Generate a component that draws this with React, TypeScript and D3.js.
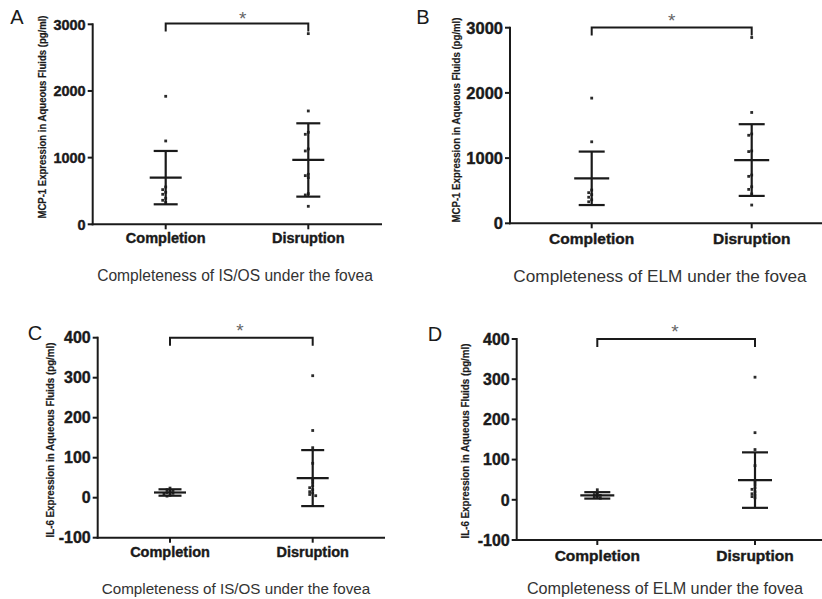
import React from "react";
import * as d3 from "d3";

// ---------- data ----------
const categories = ["Completion", "Disruption"];
const panelLetters = ["A", "B", "C", "D"];
const yAxisTitles = [
  "MCP-1 Expression in Aqueous Fluids (pg/ml)",
  "MCP-1 Expression in Aqueous Fluids (pg/ml)",
  "IL-6 Expression in Aqueous Fluids (pg/ml)",
  "IL-6 Expression in Aqueous Fluids (pg/ml)",
];
const subtitles = [
  "Completeness of IS/OS under the fovea",
  "Completeness of ELM under the fovea",
  "Completeness of IS/OS under the fovea",
  "Completeness of ELM under the fovea",
];
const mcpTicks = [0, 1000, 2000, 3000];
const il6Ticks = [-100, 0, 100, 200, 300, 400];
const mcpDomain = [0, 3000];
const il6Domain = [-100, 400];

// Panel A: MCP-1, IS/OS
const aCompletion = [1920, 1250, 560, 520, 480, 450, 390, 360, 330];
const aDisruption = [2860, 1700, 1380, 1350, 1130, 1100, 750, 730, 700, 460, 440, 270];
const aMeans = [700, 965];
const aSDs = [400, 550];

// Panel B: MCP-1, ELM
const bCompletion = [1920, 1250, 510, 470, 440, 400, 360, 330];
const bDisruption = [2850, 1700, 1370, 1350, 1110, 1100, 740, 720, 560, 520, 450, 280];
const bMeans = [690, 970];
const bSDs = [410, 550];

// Panel C: IL-6, IS/OS
const cCompletion = [24, 20, 18, 15, 13, 11, 9, 6, 4];
const cDisruption = [305, 168, 125, 86, 45, 38, 30, 25, 20, 15, 12, 8, 5];
const cMeans = [13, 49];
const cSDs = [8, 70];

// Panel D: IL-6, ELM
const dCompletion = [25, 16, 13, 11, 9, 6, 4];
const dDisruption = [305, 167, 125, 85, 45, 38, 30, 26, 20, 15, 12, 8, 5];
const dMeans = [11, 49];
const dSDs = [8, 69];

// ---------- layout (positions only) ----------
type Layout = {
  ax: number; yTop: number; yBot: number; xEnd: number;
  xC: number; xD: number;
  bracketY: number; starX: number; starY: number;
  letterX: number; letterY: number;
  ylabX: number; ylabY: number; ylabLen: number;
  catY: number; subX: number; subY: number; subFont: number;
  tickFont: number; catFont: number;
  meanHalf: number; capHalf: number;
};

const layouts: Layout[] = [
  { ax: 92.7, yTop: 24.3, yBot: 224.3, xEnd: 382, xC: 165.7, xD: 308.3,
    bracketY: 23.5, starX: 242.7, starY: 15, letterX: 17, letterY: 17,
    ylabX: 42, ylabY: 117, ylabLen: 203, catY: 238, subX: 235, subY: 275, subFont: 15.6,
    tickFont: 14.5, catFont: 14.5, meanHalf: 16, capHalf: 12 },
  { ax: 510, yTop: 27.7, yBot: 223.3, xEnd: 822, xC: 591.7, xD: 751.7,
    bracketY: 27.5, starX: 671.7, starY: 16.7, letterX: 423, letterY: 17,
    ylabX: 456.7, ylabY: 120, ylabLen: 205, catY: 238.3, subX: 660, subY: 276, subFont: 17.2,
    tickFont: 16.5, catFont: 15.5, meanHalf: 17.5, capHalf: 13 },
  { ax: 97.7, yTop: 337.7, yBot: 537.7, xEnd: 385, xC: 170, xD: 312.7,
    bracketY: 337.7, starX: 240, starY: 326.7, letterX: 35, letterY: 333,
    ylabX: 50, ylabY: 440, ylabLen: 195, catY: 551.7, subX: 236, subY: 588.5, subFont: 15.2,
    tickFont: 16, catFont: 14.5, meanHalf: 16, capHalf: 11.5 },
  { ax: 516.7, yTop: 339, yBot: 540, xEnd: 822, xC: 597.3, xD: 755,
    bracketY: 339, starX: 675, starY: 327.7, letterX: 435, letterY: 334,
    ylabX: 465, ylabY: 441, ylabLen: 195, catY: 555, subX: 665, subY: 588.5, subFont: 16.2,
    tickFont: 16, catFont: 15.5, meanHalf: 17, capHalf: 13 },
];

const panelData = [
  { groups: [aCompletion, aDisruption], means: aMeans, sds: aSDs, ticks: mcpTicks, domain: mcpDomain },
  { groups: [bCompletion, bDisruption], means: bMeans, sds: bSDs, ticks: mcpTicks, domain: mcpDomain },
  { groups: [cCompletion, cDisruption], means: cMeans, sds: cSDs, ticks: il6Ticks, domain: il6Domain },
  { groups: [dCompletion, dDisruption], means: dMeans, sds: dSDs, ticks: il6Ticks, domain: il6Domain },
];

const INK = "#1a1a1a";
const FONT = "'Liberation Sans', Arial, Helvetica, sans-serif";

// simple beeswarm offsets to spread coincident points
function swarm(ys: number[], step = 3, minDist = 2.8): number[] {
  const placed: { x: number; y: number }[] = [];
  const order = ys.map((_, i) => i).sort((a, b) => ys[a] - ys[b]);
  const out = new Array(ys.length).fill(0);
  for (const i of order) {
    const yv = ys[i];
    const cands = [0, -1, 1, -2, 2, -3, 3, -4, 4].map((k) => k * step);
    let chosen = 0;
    for (const c of cands) {
      const hit = placed.some((p) => Math.abs(p.y - yv) < minDist && Math.abs(p.x - c) < minDist);
      if (!hit) { chosen = c; break; }
    }
    placed.push({ x: chosen, y: yv });
    out[i] = chosen;
  }
  return out;
}

function Panel({ idx }: { idx: number }) {
  const L = layouts[idx];
  const P = panelData[idx];
  const y = d3.scaleLinear().domain(P.domain).range([L.yBot, L.yTop]);
  const x = d3.scaleOrdinal<string, number>().domain(categories).range([L.xC, L.xD]);

  return (
    <g>
      {/* panel letter */}
      <text x={L.letterX} y={L.letterY + 7} fontSize={20} fontFamily={FONT} fill={INK} textAnchor="middle">
        {panelLetters[idx]}
      </text>

      {/* y axis title */}
      <text
        transform={`translate(${L.ylabX},${L.ylabY}) rotate(-90)`}
        textAnchor="middle"
        dominantBaseline="central"
        fontSize={10}
        fontWeight="bold"
        fontFamily={FONT}
        fill={INK}
        stroke={INK}
        strokeWidth={0.2}
        textLength={L.ylabLen}
        lengthAdjust="spacingAndGlyphs"
      >
        {yAxisTitles[idx]}
      </text>

      {/* y axis */}
      <line x1={L.ax} x2={L.ax} y1={y(P.domain[1]) - 1} y2={y(P.domain[0]) + 1} stroke={INK} strokeWidth={2} />
      {P.ticks.map((t) => (
        <g key={t}>
          <line x1={L.ax - 5} x2={L.ax} y1={y(t)} y2={y(t)} stroke={INK} strokeWidth={2} />
          <text
            x={L.ax - 7}
            y={y(t)}
            dy="0.36em"
            textAnchor="end"
            fontSize={L.tickFont}
            fontWeight="bold"
            fontFamily={FONT}
            fill={INK}
            stroke={INK}
            strokeWidth={0.4}
          >
            {t}
          </text>
        </g>
      ))}

      {/* x axis */}
      <line x1={L.ax - 1} x2={L.xEnd} y1={L.yBot} y2={L.yBot} stroke={INK} strokeWidth={2} />
      {categories.map((c) => (
        <g key={c}>
          <line x1={x(c)} x2={x(c)} y1={L.yBot} y2={L.yBot + 5} stroke={INK} strokeWidth={2} />
          <text
            x={x(c)}
            y={L.catY}
            dy="0.36em"
            textAnchor="middle"
            fontSize={L.catFont}
            fontWeight="bold"
            fontFamily={FONT}
            fill={INK}
            stroke={INK}
            strokeWidth={0.4}
          >
            {c}
          </text>
        </g>
      ))}

      {/* points */}
      {P.groups.map((vals, gi) => {
        const cx = x(categories[gi]);
        const pys = vals.map((v) => y(v));
        const offs = swarm(pys);
        return vals.map((_, i) => (
          <rect
            key={`${gi}-${i}`}
            x={cx + offs[i] - 1.4}
            y={pys[i] - 1.4}
            width={2.8}
            height={2.8}
            fill="#2a2a2a"
          />
        ));
      })}

      {/* mean ± SD */}
      {P.means.map((m, gi) => {
        const cx = x(categories[gi]);
        const hi = y(m + P.sds[gi]);
        const lo = y(m - P.sds[gi]);
        return (
          <g key={gi} stroke={INK} strokeWidth={2.2}>
            <line x1={cx} x2={cx} y1={hi} y2={lo} />
            <line x1={cx - L.capHalf} x2={cx + L.capHalf} y1={hi} y2={hi} />
            <line x1={cx - L.capHalf} x2={cx + L.capHalf} y1={lo} y2={lo} />
            <line x1={cx - L.meanHalf} x2={cx + L.meanHalf} y1={y(m)} y2={y(m)} />
          </g>
        );
      })}

      {/* significance bracket */}
      <path
        d={`M${L.xC},${L.bracketY + 8} V${L.bracketY} H${L.xD} V${L.bracketY + 8}`}
        fill="none"
        stroke={INK}
        strokeWidth={2}
      />
      <text x={L.starX} y={L.starY + 10} textAnchor="middle" fontSize={19} fontFamily={FONT} fill="#666">
        *
      </text>

      {/* subtitle */}
      <text
        x={L.subX}
        y={L.subY}
        dy="0.36em"
        textAnchor="middle"
        fontSize={L.subFont}
        fontFamily={FONT}
        fill="#333"
      >
        {subtitles[idx]}
      </text>
    </g>
  );
}

export default function App() {
  return (
    <div style={{ position: "absolute", left: 0, top: 0 }}>
      <svg width={822} height={599} viewBox="0 0 822 599" style={{ display: "block", background: "#fff" }}>
        <rect width={822} height={599} fill="#fff" />
        {panelLetters.map((_, i) => (
          <Panel key={i} idx={i} />
        ))}
      </svg>
    </div>
  );
}
